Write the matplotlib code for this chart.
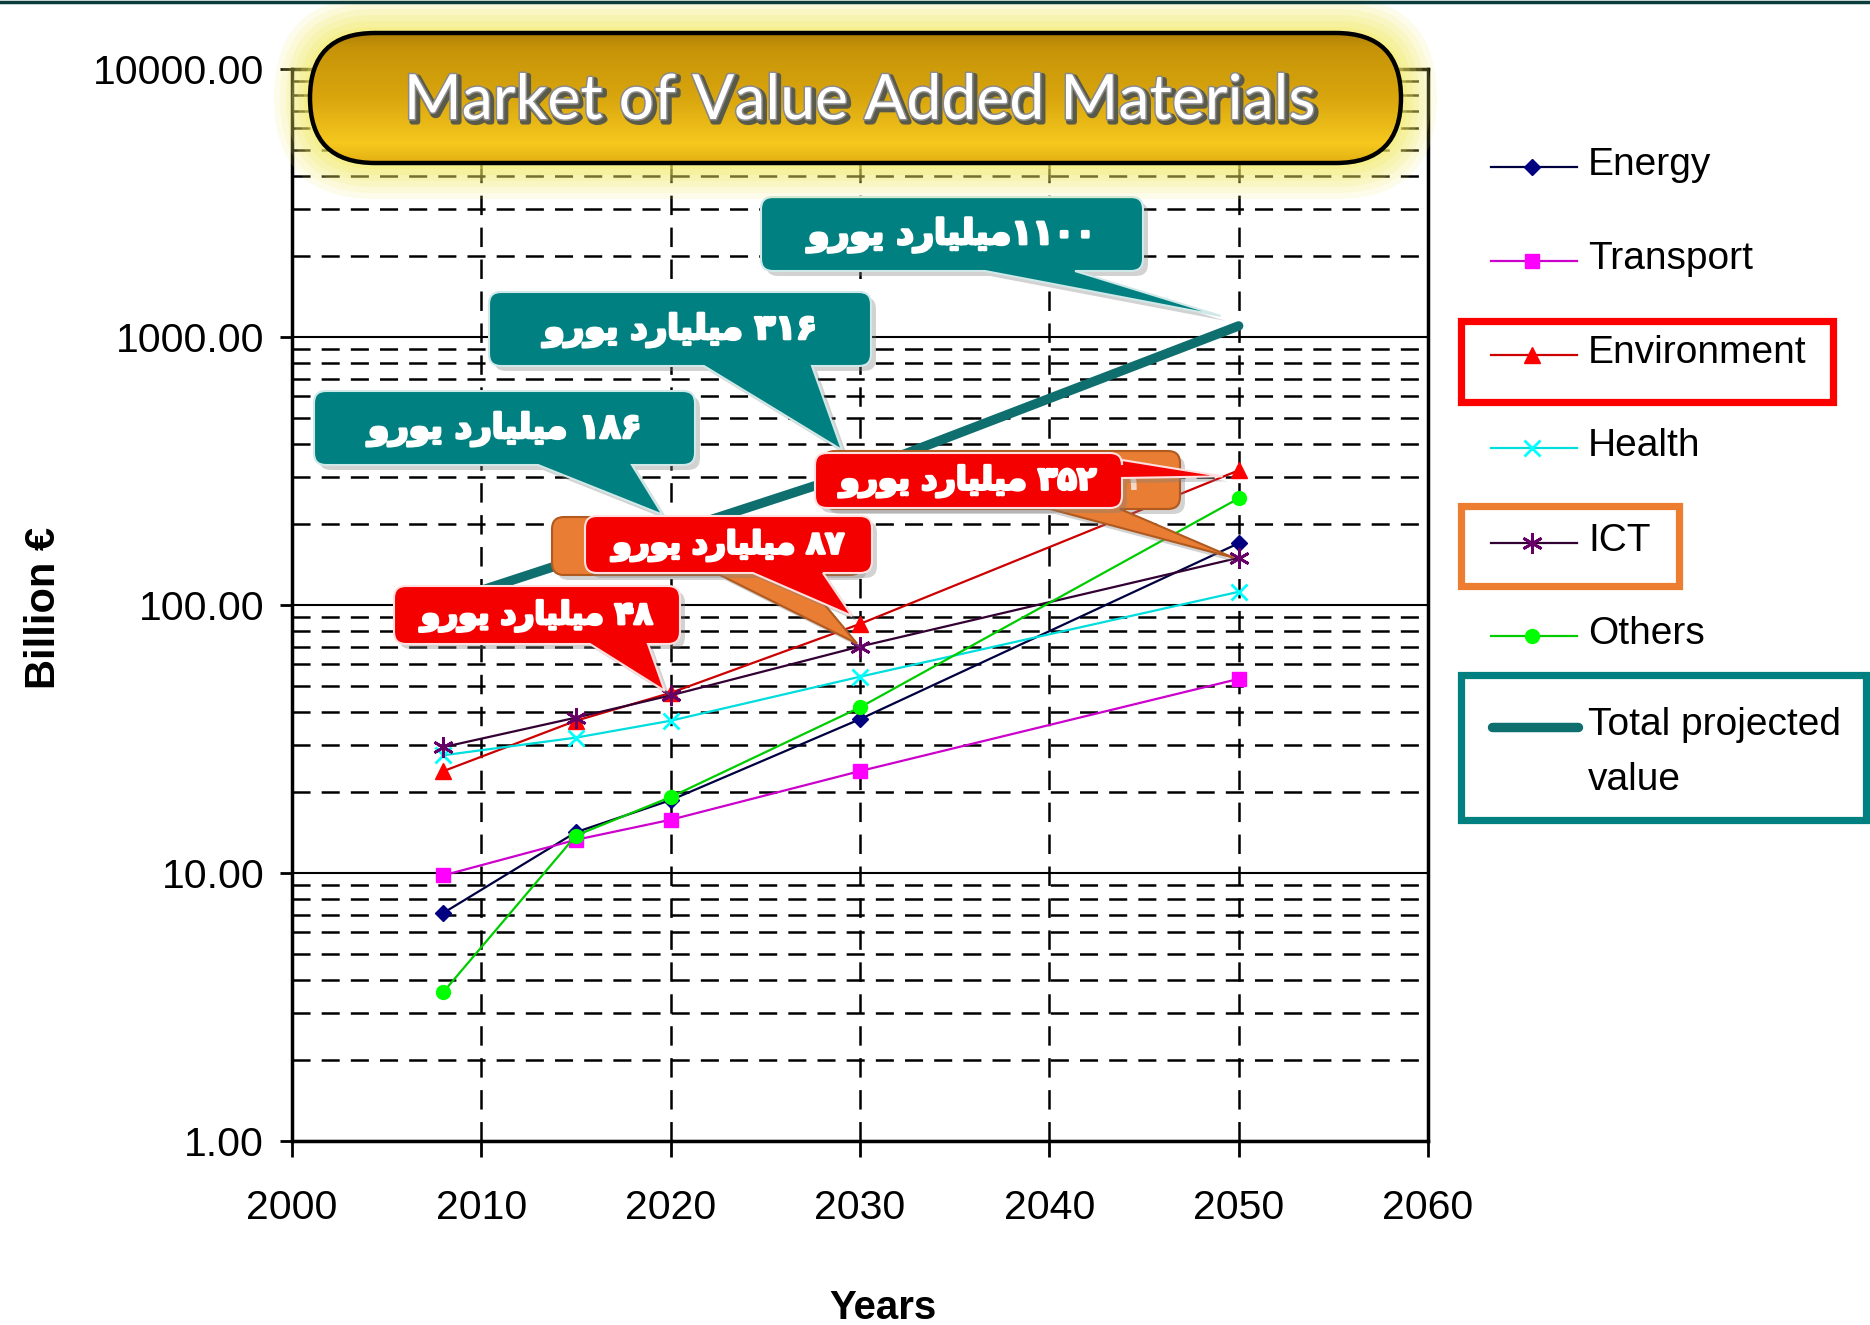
import matplotlib
matplotlib.use('Agg')
import matplotlib.pyplot as plt
import numpy as np
from matplotlib.path import Path
from matplotlib.patches import PathPatch, FancyBboxPatch, Rectangle
from matplotlib.lines import Line2D
from matplotlib.colors import LinearSegmentedColormap
from matplotlib.ticker import LogLocator, FuncFormatter, FixedLocator, NullFormatter
from matplotlib.transforms import Affine2D
import matplotlib.patheffects as pe

plt.rcParams['font.family'] = ['Liberation Sans', 'DejaVu Sans']
plt.rcParams['lines.scale_dashes'] = False

# ---------------- data ----------------
years = [2008, 2015, 2020, 2030, 2050]
energy = [7.1, 14.2, 18.7, 37.5, 170]
transport = [9.8, 13.3, 15.8, 24.0, 53]
environment = [24.0, 37.0, 47.0, 85.0, 318]
health = [27.5, 32.0, 37.0, 54.0, 112]
ict = [29.5, 38.0, 46.0, 70.0, 150]
others = [3.6, 13.8, 19.2, 41.5, 250]
total = [102, 148, 186, 316, 1100]

series_names = ['Energy', 'Transport', 'Environment', 'Health', 'ICT', 'Others']
x_ticks = [2000, 2010, 2020, 2030, 2040, 2050, 2060]
y_ticks = [1, 10, 100, 1000, 10000]
title_text = 'Market of Value Added Materials'
x_label = 'Years'
y_label = 'Billion €'

# callout labels (number, Persian)
callout_numbers = ['1100', '316', '186', '48', '87', '352']
hidden_digit = '2'

# ---------------- Persian shaping helpers ----------------
FA_DIGITS = str.maketrans('0123456789', '۰۱۲۳۴۵۶۷۸۹')
# visual (left-to-right) presentation forms of "یورو" and "میلیارد"
YORO = '\uFEED\uFEAD\uFEEE\uFEF3'
MILIARD = '\uFEA9\uFEAD\uFE8E\uFEF4\uFEE0\uFEF4\uFEE3'


def fa_label(num, space=True):
    return YORO + ' ' + MILIARD + (' ' if space else '') + num.translate(FA_DIGITS)


W, H = 1870, 1325
fig = plt.figure(figsize=(W / 100, H / 100), dpi=100)
fig.patch.set_facecolor('white')

AL, AR, AT, AB = 292, 1428, 69, 1141
ax = fig.add_axes([AL / W, 1 - AB / H, (AR - AL) / W, (AB - AT) / H])
ax.set_yscale('log')
ax.set_ylim(1, 10000)
ax.set_xlim(2000, 2060)
ax.set_axisbelow(True)

ax.xaxis.set_major_locator(FixedLocator(x_ticks))
ax.yaxis.set_major_locator(FixedLocator(y_ticks))
ax.yaxis.set_minor_locator(LogLocator(base=10, subs=np.arange(2, 10)))
ax.yaxis.set_minor_formatter(NullFormatter())
ax.yaxis.set_major_formatter(FuncFormatter(lambda v, p: f'{v:.2f}'))

ax.grid(which='major', axis='y', color='black', lw=1.5, ls='-')
ax.grid(which='minor', axis='y', color='black', lw=1.8, ls=(0, (13, 8)))
ax.grid(which='major', axis='x', color='black', lw=1.8, ls=(0, (14, 9)))

ax.tick_params(axis='y', which='major', direction='out', length=9, width=2,
               pad=11, labelsize=29.5)
ax.tick_params(axis='y', which='minor', length=0)
ax.tick_params(axis='x', which='major', direction='out', length=11.5, width=2,
               pad=23, labelsize=29.5)
for s in ax.spines.values():
    s.set_linewidth(2.5)

# series
ax.plot(years, total, color='#0F6E6E', lw=6.8, solid_capstyle='round', zorder=2)
ax.plot(years, energy, color='#000040', lw=1.6, marker='D', ms=8,
        mfc='#000080', mec='#000080', zorder=3)
ax.plot(years, transport, color='#CC00CC', lw=1.6, marker='s', ms=10,
        mfc='#FF00FF', mec='#FF00FF', zorder=3)
ax.plot(years, environment, color='#CC0000', lw=1.6, marker='^', ms=12,
        mfc='#FF0000', mec='#FF0000', zorder=3)
ax.plot(years, health, color='#00DDDD', lw=1.6, marker='x', ms=12, mew=2,
        mec='#00FFFF', zorder=3)
ax.plot(years, ict, color='#330033', lw=1.6, marker=(6, 2, 0), ms=15, mew=2,
        mec='#660066', zorder=3)
ax.plot(years, others, color='#00CC00', lw=1.6, marker='o', ms=10,
        mfc='#00FF00', mec='#00FF00', zorder=3)

# ---------------- overlay in pixel coordinates ----------------
ax2 = fig.add_axes([0, 0, 1, 1], zorder=5)
ax2.set_xlim(0, W)
ax2.set_ylim(H, 0)
ax2.axis('off')


def px(x, y):
    d = ax.transData.transform((x, y))
    return ax2.transData.inverted().transform(d)


def callout_path(box, side, base, tip, r=12):
    L, T, R, B = box
    v, c = [], []

    def mv(p):
        v.append(p); c.append(Path.MOVETO)

    def ln(p):
        v.append(p); c.append(Path.LINETO)

    def cv(ctrl, p):
        v.extend([ctrl, p]); c.extend([Path.CURVE3, Path.CURVE3])

    mv((L + r, T))
    ln((R - r, T))
    cv((R, T), (R, T + r))
    if side == 'right':
        ln((R, base[0])); ln(tuple(tip)); ln((R, base[1]))
    ln((R, B - r))
    cv((R, B), (R - r, B))
    if side == 'bottom':
        ln((base[1], B)); ln(tuple(tip)); ln((base[0], B))
    ln((L + r, B))
    cv((L, B), (L, B - r))
    ln((L, T + r))
    cv((L, T), (L + r, T))
    v.append((L + r, T)); c.append(Path.CLOSEPOLY)
    return Path(v, c)


TEXT_FX = [pe.withStroke(linewidth=2.0, foreground='white')]


def callout(box, side, base, tip, fc, ec, text=None, fs=25, z=6):
    p = callout_path(box, side, base, tip)
    sh = PathPatch(p, fc='#808080', ec='none', alpha=0.35,
                   transform=Affine2D().translate(5, 5) + ax2.transData, zorder=z)
    ax2.add_patch(sh)
    ax2.add_patch(PathPatch(p, fc=fc, ec=ec, lw=1.5, zorder=z + 0.1))
    if text is not None:
        L, T, R, B = box
        ax2.text((L + R) / 2, (T + B) / 2 + 1, text, color='white', fontsize=fs,
                 fontweight='bold', family=['DejaVu Sans'], ha='center',
                 va='center', zorder=z + 0.2, path_effects=TEXT_FX)


TEAL = '#008080'
RED = '#F50000'
ORANGE = '#E87D33'

t50 = px(years[4], total[4])
t30 = px(years[3], total[3])
t20 = px(years[2], total[2])
e20 = px(years[2], environment[2])
e30 = px(years[3], environment[3])
e50 = px(years[4], environment[4])
i30 = px(years[3], ict[3])
i50 = px(years[4], ict[4])

callout((761, 197, 1143, 271), 'bottom', (985, 1075), (t50[0] - 18, t50[1] - 10),
        TEAL, '#D0E8E8', fa_label(callout_numbers[0], space=False), fs=25)
callout((489, 292, 871, 366), 'bottom', (704, 812), (t30[0] - 18, t30[1] - 21),
        TEAL, '#D0E8E8', fa_label(callout_numbers[1]), fs=24.5)
callout((314, 391, 695, 465), 'bottom', (538, 632), (t20[0] - 8, t20[1] - 18),
        TEAL, '#D0E8E8', fa_label(callout_numbers[2]), fs=24.5)
# orange (ICT) callouts underneath the red ones
callout((552, 517, 862, 575), 'bottom', (720, 800), (i30[0] - 3, i30[1] - 3),
        ORANGE, '#B05A20', None, z=7)
callout((823, 451, 1180, 509), 'bottom', (1050, 1120), (i50[0] - 5, i50[1]),
        ORANGE, '#B05A20', None, z=7)
ax2.text(1136, 482, hidden_digit.translate(FA_DIGITS), color='#F4D9C8', fontsize=23,
         fontweight='bold', family=['DejaVu Sans'], ha='center', va='center',
         zorder=7.2)
callout((585, 516, 872, 573), 'bottom', (753, 823), (e30[0] - 8, e30[1] - 8),
        RED, '#FFE0E0', fa_label(callout_numbers[4]), fs=22.5, z=8)
callout((394, 586, 680, 644), 'bottom', (590, 648), (e20[0] - 6, e20[1] - 2),
        RED, '#FFE0E0', fa_label(callout_numbers[3]), fs=22.5, z=8)
callout((815, 453, 1122, 508), 'right', (460, 478), (e50[0] - 16, e50[1] + 6),
        RED, '#FFE0E0', fa_label(callout_numbers[5]), fs=23, z=8)

# ---------------- title pill ----------------
TL, TT, TR, TB = 310, 33, 1401, 163
th = TB - TT
for pad, a in [(36, 0.12), (30, 0.14), (24, 0.16), (18, 0.18), (12, 0.22), (6, 0.28)]:
    g = FancyBboxPatch((TL, TT), TR - TL, th,
                       boxstyle=f'round,pad={pad},rounding_size={th / 2 + pad}',
                       fc='#F3EA60', ec='none', alpha=a, zorder=9)
    ax2.add_patch(g)
clip = FancyBboxPatch((TL, TT), TR - TL, th,
                      boxstyle=f'round,pad=0,rounding_size={th / 2}',
                      fc='none', ec='none', zorder=10)
ax2.add_patch(clip)
gcmap = LinearSegmentedColormap.from_list(
    'gold', [(0, '#B08206'), (0.12, '#C79409'), (0.5, '#D9A60E'),
             (0.85, '#F6C81E'), (1.0, '#E2B012')])
grad = np.linspace(0, 1, 256).reshape(-1, 1)
im = ax2.imshow(grad, extent=(TL, TR, TB, TT), aspect='auto', cmap=gcmap,
                zorder=10, interpolation='bilinear')
im.set_clip_path(clip)
ax2.add_patch(FancyBboxPatch((TL, TT), TR - TL, th,
                             boxstyle=f'round,pad=0,rounding_size={th / 2}',
                             fc='none', ec='black', lw=3.2, zorder=11))
ax2.set_xlim(0, W)
ax2.set_ylim(H, 0)
ax2.text(860, 101, title_text, fontsize=45, color='white', family=['Lato', 'DejaVu Sans'],
         ha='center', va='center', zorder=12,
         path_effects=[pe.Stroke(linewidth=4, foreground='#5a5a4a', offset=(2, -2)),
                       pe.Stroke(linewidth=2.2, foreground='#8a8a8a'),
                       pe.Normal()])

# ---------------- legend ----------------
leg_y = [167, 261, 355, 448, 543, 636]
leg_styles = [
    dict(color='#000040', marker='D', ms=8, mfc='#000080', mec='#000080'),
    dict(color='#CC00CC', marker='s', ms=10, mfc='#FF00FF', mec='#FF00FF'),
    dict(color='#CC0000', marker='^', ms=12, mfc='#FF0000', mec='#FF0000'),
    dict(color='#00DDDD', marker='x', ms=12, mew=2, mec='#00FFFF'),
    dict(color='#330033', marker=(6, 2, 0), ms=15, mew=2, mec='#660066'),
    dict(color='#00CC00', marker='o', ms=10, mfc='#00FF00', mec='#00FF00'),
]
for name, y, st in zip(series_names, leg_y, leg_styles):
    st = dict(st)
    col = st.pop('color')
    ax2.add_line(Line2D([1491, 1577], [y, y], color=col, lw=1.6, zorder=6))
    ax2.add_line(Line2D([1532], [y], color=col, lw=0, zorder=6.1, **st))
    ax2.text(1588, y - 2, name, fontsize=28, va='center', ha='left', zorder=6)
ax2.add_line(Line2D([1492, 1578], [727, 727], color='#0F6E6E', lw=6.8,
                    solid_capstyle='round', zorder=6))
ax2.text(1588, 725, 'Total projected', fontsize=28, va='center', ha='left', zorder=6)
ax2.text(1588, 780, 'value', fontsize=28, va='center', ha='left', zorder=6)
ax2.add_patch(Rectangle((1461, 321), 372, 81, fill=False, ec='#FF0000', lw=5.2, zorder=6))
ax2.add_patch(Rectangle((1461, 506), 218, 80, fill=False, ec='#ED7D31', lw=5.2, zorder=6))
ax2.add_patch(Rectangle((1461, 675), 405, 145, fill=False, ec='#008080', lw=5.2, zorder=6))

# ---------------- axis labels ----------------
ax2.text(44, 608, y_label, rotation=90, fontsize=30, fontweight='bold',
         ha='center', va='center', zorder=6)
ax2.text(883, 1289, x_label, fontsize=29, fontweight='bold', ha='center',
         va='top', zorder=6)

# top border line
ax2.add_line(Line2D([0, W], [1.5, 1.5], color='#0B3D3D', lw=2.5, zorder=20))

fig.savefig('out.png', dpi=100, facecolor='white')
